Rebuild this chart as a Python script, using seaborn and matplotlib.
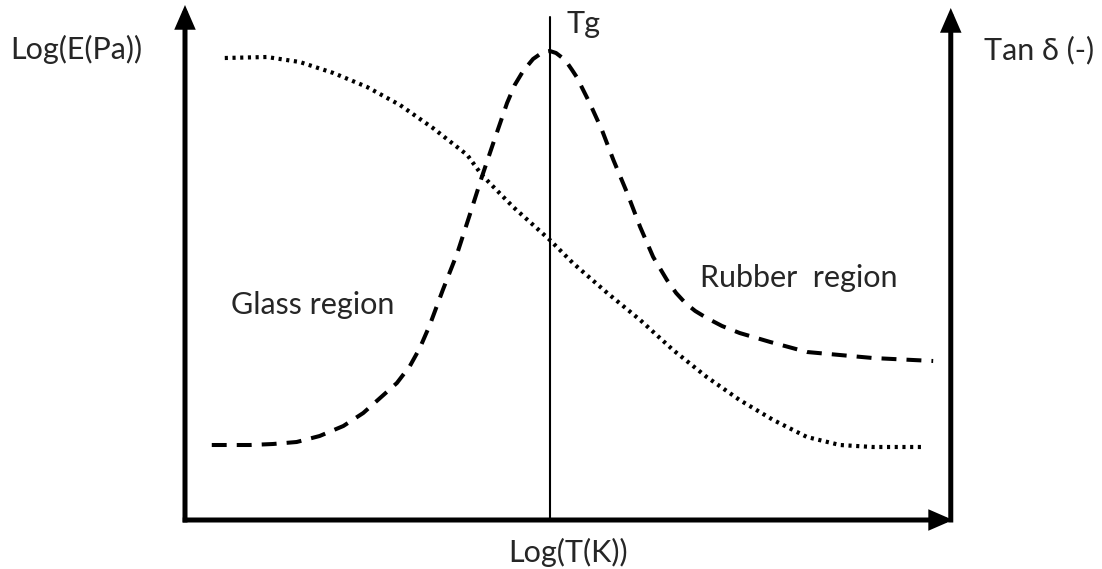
import matplotlib
matplotlib.use("Agg")
import matplotlib.pyplot as plt
import numpy as np
import pandas as pd
import seaborn as sns

# Schematic DMA curves: storage modulus (dotted) and loss factor tan δ (dashed)
# against log temperature, in arbitrary schematic units (0–10 on both axes).
log_t_tan = [0.35, 0.85, 1.15, 1.46, 1.76, 2.07, 2.33, 2.77, 2.94, 3.07, 3.20,
             3.37, 3.56, 3.73, 3.88, 4.03, 4.21, 4.31, 4.42, 4.55, 4.68, 4.77,
             4.85, 4.97, 5.06, 5.12, 5.29, 5.45, 5.60, 5.78, 5.95, 6.12, 6.30,
             6.42, 6.54, 6.67, 6.82, 7.02, 7.25, 7.65, 8.13, 8.99, 9.78]
tan_delta = [1.50, 1.50, 1.52, 1.56, 1.68, 1.88, 2.14, 2.74, 3.08, 3.44, 3.90,
             4.60, 5.34, 6.14, 6.86, 7.54, 8.34, 8.70, 8.98, 9.22, 9.36, 9.38,
             9.34, 9.20, 9.00, 8.86, 8.34, 7.80, 7.20, 6.54, 5.86, 5.26, 4.80,
             4.54, 4.34, 4.18, 4.04, 3.88, 3.74, 3.56, 3.36, 3.24, 3.18]

log_t_mod = [0.52, 1.07, 1.50, 1.94, 2.38, 2.81, 3.24, 3.69, 3.88, 4.29, 4.77,
             5.07, 5.52, 5.95, 6.38, 6.82, 7.25, 7.69, 8.13, 8.56, 8.99, 9.67]
log_modulus = [9.24, 9.26, 9.16, 8.94, 8.66, 8.30, 7.84, 7.30, 6.90, 6.26, 5.60,
               5.14, 4.54, 4.00, 3.40, 2.86, 2.40, 2.00, 1.66, 1.50, 1.46, 1.46]

tg_position = 4.77

x_label = "Log(T(K))"
left_label = "Log(E(Pa))"
right_label = "Tan δ (-)"
tg_label = "Tg"
glass_label = "Glass region"
rubber_label = "Rubber  region"

sns.set_theme(style="white")
plt.rcParams["font.family"] = ["Lato", "DejaVu Sans"]

W, H = 1102, 569
fig = plt.figure(figsize=(W / 100, H / 100), dpi=100)
ax = fig.add_axes([0, 0, 1, 1])
# 76.5 px per x unit starting at px 185; 50 px per y unit starting at px 520
ax.set_xlim(-185 / 76.5, (W - 185) / 76.5)
ax.set_ylim((520 - H) / 50, 520 / 50)
ax.set_axis_off()

mod_df = pd.DataFrame({"logT": log_t_mod, "logE": log_modulus})
tan_df = pd.DataFrame({"logT": log_t_tan, "tan": tan_delta})

sns.lineplot(data=mod_df, x="logT", y="logE", ax=ax, color="black",
             lw=3.0, sort=False, estimator=None)
mod_line = ax.lines[-1]
mod_line.set_linestyle((0, (0.75, 1.1)))
mod_line.set_dash_capstyle("butt")

sns.lineplot(data=tan_df, x="logT", y="tan", ax=ax, color="black",
             lw=2.9, sort=False, estimator=None)
tan_line = ax.lines[-1]
tan_line.set_linestyle((0, (3.7, 2.5)))
tan_line.set_dash_capstyle("butt")

# Tg marker line
ax.plot([tg_position, tg_position], [0, 10.06], color="black", lw=1.5)

# Axis arrows
arrow_kw = dict(arrowstyle="-|>,head_length=1.15,head_width=0.5",
                color="black", lw=3.6, shrinkA=0, shrinkB=0,
                mutation_scale=10, joinstyle="miter", capstyle="butt")
ax.annotate("", xy=(0.0, 10.30), xytext=(0.0, -0.05), arrowprops=arrow_kw)
ax.annotate("", xy=(10.01, 10.24), xytext=(10.01, -0.05), arrowprops=arrow_kw)
ax.annotate("", xy=(10.04, 0.0), xytext=(-0.03, 0.0), arrowprops=arrow_kw)

fs = 22
ax.text(-1.425, 9.22, left_label, ha="center", va="baseline", fontsize=fs)
ax.text(11.16, 9.22, right_label, ha="center", va="baseline", fontsize=fs)
ax.text(4.99, 9.74, tg_label, ha="left", va="baseline", fontsize=fs)
ax.text(5.007, -0.64, x_label, ha="center", va="center", fontsize=fs)
ax.text(1.673, 4.12, glass_label, ha="center", va="baseline", fontsize=fs)
ax.text(8.02, 4.66, rubber_label, ha="center", va="baseline", fontsize=fs)

fig.savefig("out.png", dpi=100, facecolor="white")
